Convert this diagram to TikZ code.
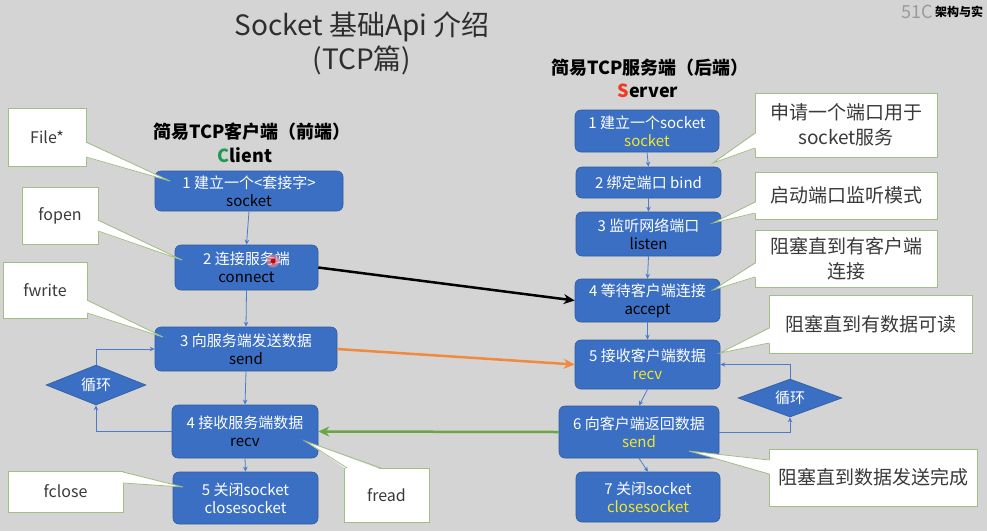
\documentclass[tikz,border=0pt]{standalone}
\usepackage{fontspec}
\setmainfont{Noto Sans CJK SC}
\usetikzlibrary{arrows.meta,shapes.geometric,calc}
\definecolor{bg}{HTML}{D5D4D4}
\definecolor{boxblue}{HTML}{3A6FC4}
\definecolor{boxedge}{HTML}{2F5C9E}
\definecolor{flow}{HTML}{4A7CCB}
\definecolor{cedge}{HTML}{A3BE85}
\definecolor{ctext}{HTML}{3A3A3A}
\definecolor{ylw}{HTML}{F2E72C}
\definecolor{org}{HTML}{F08A3C}
\definecolor{grn}{HTML}{6BA545}
\definecolor{cgreen}{HTML}{1E9B4E}
\definecolor{sred}{HTML}{F03A1E}
\definecolor{ttl}{HTML}{2E2E2E}
\definecolor{wmgray}{HTML}{9A9A9A}
\newcommand\ptr[4]{%
  \fill[white] ($#1+#4$) -- #3 -- ($#2+#4$) -- cycle;
  \draw[cline] #1 -- #3 -- #2;}
\begin{document}
\begin{tikzpicture}[x=1pt,y=-1pt,
  blk/.style={draw=boxedge, line width=0.6pt, fill=boxblue, rounded corners=6pt,
    inner sep=0pt, align=center, text=white, font=\fontsize{15}{18}\selectfont},
  dia/.style={diamond, draw=boxedge, line width=0.6pt, fill=boxblue, inner sep=0pt,
    aspect=2.6, text=white, font=\fontsize{15}{18}\selectfont},
  callbox/.style={draw=cedge, line width=0.8pt, fill=white, inner sep=0pt,
    align=center, text=ctext},
  cline/.style={draw=cedge, line width=0.8pt},
  hdr/.style={font=\fontsize{18}{22}\selectfont\bfseries, text=black},
  flowarr/.style={draw=flow, line width=0.8pt, -{Stealth[length=5pt,width=4.5pt]}},
  bigarr/.style={line width=2.5pt, -{Stealth[length=11pt,width=10pt]}}
]
\useasboundingbox (0,0) rectangle (987,531);
\fill[bg] (0,0) rectangle (987,531);

% title
\node[font=\fontsize{28}{30}\selectfont, text=ttl] (t1) at (362,27) {Socket 基础Api 介绍};
\node[font=\fontsize{28}{30}\selectfont, text=ttl] (t2) at (362,60) {(TCP篇)};

% watermark
\node[anchor=west, font=\fontsize{18}{18}\selectfont, text=wmgray, inner sep=0pt] (wm1) at (901,12) {51C};
\node[anchor=west, font=\fontsize{12}{12}\selectfont\bfseries, text=black, inner sep=0pt] (wm2) at (935,12) {架构与实};

% headers
\node[hdr] (ch) at (252,132) {简易TCP客户端（前端）};
\node[hdr] (cl) at (245,155) {{\color{cgreen}C}lient};
\node[hdr] (sh) at (650,68) {简易TCP服务端（后端）};
\node[hdr] (sv) at (648,91) {{\color{sred}S}erver};

% client boxes
\node[blk, minimum width=188pt, minimum height=40pt] (c1) at (249,191) {1 建立一个<套接字>\\{\color{black}socket}};
\node[blk, minimum width=143pt, minimum height=45pt] (c2) at (246.5,267.5) {2 连接服务端\\{\color{black}connect}};
\node[blk, minimum width=182pt, minimum height=44pt] (c3) at (246,349) {3 向服务端发送数据\\{\color{black}send}};
\node[blk, minimum width=146pt, minimum height=53pt] (c4) at (245,431.5) {4 接收服务端数据\\{\color{black}recv}};
\node[blk, minimum width=145pt, minimum height=52pt] (c5) at (245.5,498) {5 关闭socket\\closesocket};
\node[dia, minimum width=100pt, minimum height=40pt] (cd) at (96,385) {循环};

% server boxes
\node[blk, minimum width=144pt, minimum height=42pt] (s1) at (647,131) {1 建立一个socket\\{\color{ylw}socket}};
\node[blk, minimum width=145pt, minimum height=31pt] (s2) at (648.5,182.5) {2 绑定端口 bind};
\node[blk, minimum width=145pt, minimum height=44pt] (s3) at (648.5,234) {3 监听网络端口\\{\color{black}listen}};
\node[blk, minimum width=145pt, minimum height=43pt] (s4) at (647.5,300.5) {4 等待客户端连接\\{\color{black}accept}};
\node[blk, minimum width=145pt, minimum height=49pt] (s5) at (647.5,364.5) {5 接收客户端数据\\{\color{ylw}recv}};
\node[blk, minimum width=160pt, minimum height=52pt] (s6) at (639,432) {6 向客户端返回数据\\{\color{ylw}send}};
\node[blk, minimum width=144pt, minimum height=50pt] (s7) at (648,497) {7 关闭socket\\{\color{ylw}closesocket}};
\node[dia, minimum width=104pt, minimum height=38pt] (sd) at (790,398) {循环};

% red cursor dot
\fill[red!45, opacity=0.55] (273,261) circle (6.5pt);
\node[circle, fill=red!85!black, inner sep=0pt, minimum size=5pt] (dot) at (273,261) {};

% client flow
\draw[flowarr] (c1.south) -- (c2.north);
\draw[flowarr] (c2.south) -- (c3.north);
\draw[flowarr] (c3.south) -- (c4.north);
\draw[flowarr] (c4.south) -- (c5.north);
\draw[flowarr] (c4.west) -| (cd.south);
\draw[flowarr] (cd.north) |- (c3.west);

% server flow
\draw[flowarr] (s1.south) -- (s2.north);
\draw[flowarr] (s2.south) -- (s3.north);
\draw[flowarr] (s3.south) -- (s4.north);
\draw[flowarr] (s4.south) -- (s5.north);
\draw[flowarr] (s5.south) -- (s6.north);
\draw[flowarr] (s6.south) -- (s7.north);
\draw[flowarr] (s6.east) -| (sd.south);
\draw[flowarr] (sd.north) |- (s5.east);

% cross arrows
\draw[bigarr, black] (c2.east) -- (s4.west);
\draw[bigarr, org] (c3.east) -- (s5.west);
\draw[bigarr, grn] (s6.west) -- (c4.east);

% client callouts
\node[callbox, minimum width=78pt, minimum height=58pt, font=\fontsize{16}{20}\selectfont] (k1) at (47,137) {File*};
\coordinate (k1t) at (170,181);
\ptr{(86,142)}{(86,157)}{(k1t)}{(-1.5,0)}
\node[callbox, minimum width=76pt, minimum height=57pt, font=\fontsize{16}{20}\selectfont] (k2) at (60,215.5) {fopen};
\coordinate (k2t) at (182,260);
\ptr{(98,220)}{(98,231)}{(k2t)}{(-1.5,0)}
\node[callbox, minimum width=84pt, minimum height=56pt, font=\fontsize{16}{20}\selectfont] (k3) at (45,290) {fwrite};
\coordinate (k3t) at (163,337);
\ptr{(87,300)}{(87,313)}{(k3t)}{(-1.5,0)}
\node[callbox, minimum width=115pt, minimum height=41pt, font=\fontsize{16}{20}\selectfont] (k4) at (65.5,491.5) {fclose};
\coordinate (k4t) at (183,487);
\ptr{(123,472)}{(123,483)}{(k4t)}{(-1.5,0)}
\node[callbox, minimum width=85pt, minimum height=54pt, font=\fontsize{16}{20}\selectfont] (k5) at (386.5,495) {fread};
\coordinate (k5t) at (305,441);
\ptr{(347,468)}{(381,468)}{(k5t)}{(0,1.5)}

% server callouts
\node[callbox, minimum width=182pt, minimum height=64pt, font=\fontsize{19}{25}\selectfont] (q1) at (846,125) {申请一个端口用于\\socket服务};
\coordinate (q1t) at (713,163);
\ptr{(755,133)}{(755,148)}{(q1t)}{(1.5,0)}
\node[callbox, minimum width=182pt, minimum height=47pt, font=\fontsize{19}{25}\selectfont] (q2) at (846,195.5) {启动端口监听模式};
\coordinate (q2t) at (713,223);
\ptr{(755,202)}{(755,213)}{(q2t)}{(1.5,0)}
\node[callbox, minimum width=182pt, minimum height=57pt, font=\fontsize{19}{25}\selectfont] (q3) at (846,258.5) {阻塞直到有客户端\\连接};
\coordinate (q3t) at (713,290);
\ptr{(755,263)}{(755,277)}{(q3t)}{(1.5,0)}
\node[callbox, minimum width=203pt, minimum height=58pt, font=\fontsize{19}{25}\selectfont] (q4) at (870.5,324) {阻塞直到有数据可读};
\coordinate (q4t) at (720,353);
\ptr{(769,328)}{(769,343)}{(q4t)}{(1.5,0)}
\node[callbox, minimum width=208pt, minimum height=57pt, font=\fontsize{19}{25}\selectfont] (q5) at (873,477.5) {阻塞直到数据发送完成};
\coordinate (q5t) at (689,451);
\ptr{(769,460)}{(769,474)}{(q5t)}{(1.5,0)}
\end{tikzpicture}
\end{document}
